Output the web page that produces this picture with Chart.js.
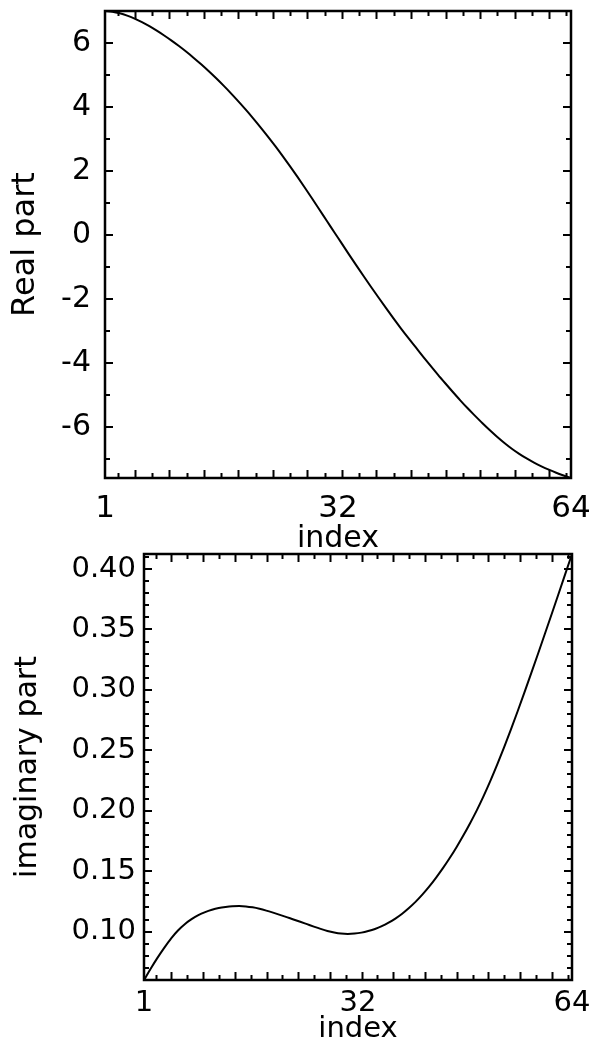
<!DOCTYPE html>
<html>
<head>
<meta charset="utf-8">
<title>Real and imaginary part</title>
<script src="https://cdn.jsdelivr.net/npm/chart.js@4.4.1/dist/chart.umd.min.js"></script>
<style>
  html, body { margin: 0; padding: 0; background: #fff; }
  body { position: relative; width: 592px; height: 1049px; overflow: hidden; }
  canvas { position: absolute; left: 0; }
  #real-chart { top: 0; }
  #imag-chart { top: 500px; }
</style>
</head>
<body>
<canvas id="real-chart" width="592" height="560"></canvas>
<canvas id="imag-chart" width="592" height="549"></canvas>
<script>
'use strict';

const index = Array.from({length: 64}, (_, k) => k + 1);

const realPart = [
  7.000, 6.980, 6.930, 6.855, 6.760, 6.650, 6.525, 6.385, 6.235, 6.075,
  5.905, 5.725, 5.535, 5.335, 5.125, 4.905, 4.675, 4.435, 4.185, 3.925,
  3.655, 3.375, 3.085, 2.785, 2.475, 2.155, 1.825, 1.485, 1.140, 0.790,
  0.440, 0.090, -0.260, -0.610, -0.955, -1.295, -1.630, -1.960, -2.285, -2.605,
  -2.915, -3.215, -3.505, -3.795, -4.080, -4.360, -4.630, -4.895, -5.155, -5.405,
  -5.640, -5.870, -6.090, -6.300, -6.495, -6.675, -6.835, -6.980, -7.110, -7.225,
  -7.330, -7.425, -7.510, -7.590
];

const imagPart = [
  0.0600, 0.0695, 0.0785, 0.0868, 0.0945, 0.1010, 0.1062, 0.1103, 0.1137, 0.1162,
  0.1181, 0.1195, 0.1204, 0.1210, 0.1212, 0.1209, 0.1201, 0.1189, 0.1174, 0.1157,
  0.1139, 0.1120, 0.1101, 0.1082, 0.1062, 0.1042, 0.1023, 0.1006, 0.0993, 0.0984,
  0.0981, 0.0984, 0.0992, 0.1005, 0.1022, 0.1045, 0.1074, 0.1108, 0.1148, 0.1195,
  0.1248, 0.1308, 0.1374, 0.1447, 0.1525, 0.1609, 0.1699, 0.1795, 0.1897, 0.2005,
  0.2123, 0.2249, 0.2383, 0.2524, 0.2671, 0.2823, 0.2979, 0.3138, 0.3299, 0.3462,
  0.3626, 0.3791, 0.3957, 0.4124
];

// the middle label sits at the centre of the index axis
const indexTicks = [1, 32.5, 64];
const indexTickLabels = ['1', '32', '64'];
const realTicks = [-6, -4, -2, 0, 2, 4, 6];
const imagTicks = [0.10, 0.15, 0.20, 0.25, 0.30, 0.35, 0.40];

// small ticks along the index axis
let indexMinor = [];
for (let k = 0; k < 27; k++) {
  indexMinor.push(2.7 + k * 7 / 3);
}
let realMinor = [];
for (let v = -7; v <= 6; v++) {
  realMinor.push(v);
}
let imagMinor = [];
for (let v = 7; v <= 41; v++) {
  imagMinor.push(v / 100);
}

// box round the plot with inward ticks on all four sides
const frameTicks = {
  id: 'frameTicks',
  afterDatasetsDraw(chart, args, opts) {
    const ctx = chart.ctx;
    const a = chart.chartArea;
    const x = chart.scales.x;
    const y = chart.scales.y;
    ctx.save();
    ctx.strokeStyle = '#000';
    ctx.lineWidth = 2;
    ctx.beginPath();
    opts.xMinor.forEach((v, k) => {
      const px = Math.round(x.getPixelForValue(v)) + 0.5;
      const len = k % 2 ? 8 : 5;
      ctx.moveTo(px, a.bottom);
      ctx.lineTo(px, a.bottom - len);
      ctx.moveTo(px, a.top);
      ctx.lineTo(px, a.top + len);
    });
    opts.yMinor.forEach(v => {
      const py = Math.round(y.getPixelForValue(v));
      const major = opts.yMajor.some(m => Math.abs(m - v) < 1e-9);
      const len = major ? 8 : 5;
      ctx.moveTo(a.left, py);
      ctx.lineTo(a.left + len, py);
      ctx.moveTo(a.right, py);
      ctx.lineTo(a.right - len, py);
    });
    ctx.stroke();
    ctx.lineWidth = 2.5;
    ctx.strokeRect(a.left, a.top, a.right - a.left, a.bottom - a.top);
    ctx.restore();
  }
};

function drawPlot(id, values, cfg) {
  return new Chart(document.getElementById(id), {
    type: 'line',
    data: {
      datasets: [{
        data: values.map((v, k) => ({x: index[k], y: v})),
        borderColor: '#000',
        borderWidth: 2,
        pointRadius: 0,
        fill: false,
        cubicInterpolationMode: 'monotone'
      }]
    },
    options: {
      responsive: false,
      animation: false,
      devicePixelRatio: 1,
      layout: {padding: cfg.padding},
      plugins: {
        legend: {display: false},
        tooltip: {enabled: false},
        frameTicks: {xMinor: indexMinor, yMinor: cfg.yMinor, yMajor: cfg.yTicks}
      },
      scales: {
        x: {
          type: 'linear',
          min: 1,
          max: 64,
          grid: {display: false, drawTicks: false},
          border: {display: false},
          afterBuildTicks: s => { s.ticks = indexTicks.map(v => ({value: v})); },
          afterFit: s => {
            s.height = cfg.xHeight;
            s.paddingLeft = 0;
            s.paddingRight = 0;
          },
          ticks: {
            autoSkip: false,
            maxRotation: 0,
            minRotation: 0,
            color: '#000',
            padding: cfg.xTickPad,
            font: {family: 'DejaVu Sans', size: cfg.xTickSize},
            callback: (v, i) => indexTickLabels[i]
          },
          title: {
            display: true,
            text: 'index',
            color: '#000',
            padding: {top: 0, bottom: cfg.xTitlePad},
            font: {family: 'DejaVu Sans', size: cfg.xTitleSize}
          }
        },
        y: {
          min: cfg.yMin,
          max: cfg.yMax,
          grid: {display: false, drawTicks: false},
          border: {display: false},
          afterBuildTicks: s => { s.ticks = cfg.yTicks.map(v => ({value: v})); },
          afterFit: s => {
            s.width = cfg.yWidth;
            s.paddingTop = 0;
            s.paddingBottom = 0;
          },
          ticks: {
            autoSkip: false,
            color: '#000',
            padding: cfg.yTickPad,
            font: {family: 'DejaVu Sans', size: cfg.yTickSize},
            callback: v => cfg.format(v)
          },
          title: {
            display: true,
            text: cfg.yTitle,
            color: '#000',
            padding: {top: cfg.yTitlePad, bottom: 0},
            font: {family: 'DejaVu Sans', size: cfg.yTitleSize}
          }
        }
      }
    },
    plugins: [frameTicks]
  });
}

drawPlot('real-chart', realPart, {
  padding: {top: 11, right: 21, bottom: 0, left: 0},
  xHeight: 82,
  yWidth: 105,
  yMin: -7.59,
  yMax: 7.0,
  yTicks: realTicks,
  yMinor: realMinor,
  format: v => String(v),
  yTitle: 'Real part',
  xTickSize: 31, xTickPad: 12,
  yTickSize: 30, yTickPad: 14,
  xTitleSize: 30, xTitlePad: 3,
  yTitleSize: 32, yTitlePad: 6
});

drawPlot('imag-chart', imagPart, {
  padding: {top: 54, right: 20, bottom: 0, left: 0},
  xHeight: 69,
  yWidth: 144,
  yMin: 0.0600,
  yMax: 0.4124,
  yTicks: imagTicks,
  yMinor: imagMinor,
  format: v => v.toFixed(2),
  yTitle: 'imaginary part',
  xTickSize: 29, xTickPad: 6,
  yTickSize: 29, yTickPad: 8,
  xTitleSize: 29, xTitlePad: 2,
  yTitleSize: 30, yTitlePad: 10
});
</script>
</body>
</html>
